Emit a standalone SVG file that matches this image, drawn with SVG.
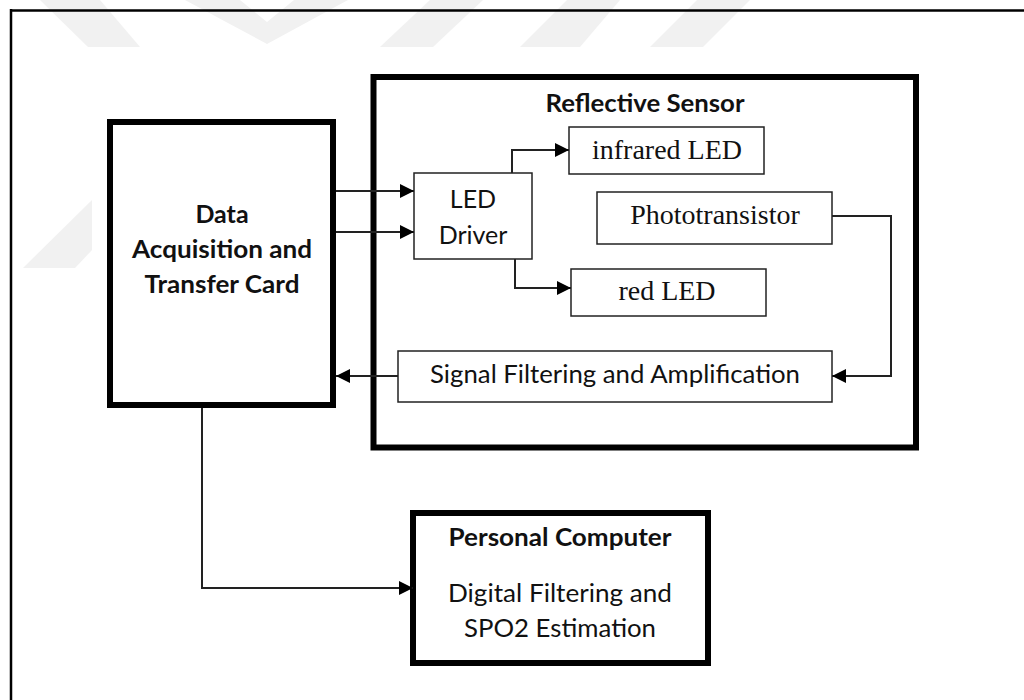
<svg xmlns="http://www.w3.org/2000/svg" width="1024" height="700" viewBox="0 0 1024 700">
<defs>
<style>
.wm{fill:#f1f1f1;stroke:none}
.thick{fill:#fff;stroke:#000;stroke-width:6}
.thin{fill:#fff;stroke:#222;stroke-width:1.5}
.con{fill:none;stroke:#222;stroke-width:2}
.sans{font-family:Lato,"Open Sans","Liberation Sans",sans-serif;font-size:25px;fill:#111;text-anchor:middle}
.bold{font-weight:bold}
.serif{font-family:"Liberation Serif","Times New Roman",serif;font-size:28px;fill:#111;text-anchor:middle}
</style>
<marker id="ah" markerUnits="userSpaceOnUse" markerWidth="15" markerHeight="14" refX="14" refY="7" orient="auto">
<path d="M0,0 L14,7 L0,14 z" fill="#000"/>
</marker>
</defs>
<rect x="0" y="0" width="1024" height="700" fill="#fff"/>
<g id="watermark">
<polygon class="wm" points="40,0 100,0 140,47 88,47"/>
<polygon class="wm" points="185,0 240,0 267,22 294,0 348,0 267,44"/>
<polygon class="wm" points="430,0 483,0 433,47 380,47"/>
<polygon class="wm" points="567,0 620,0 580,47 520,47"/>
<polygon class="wm" points="697,0 750,0 703,47 650,47"/>
<polygon class="wm" points="92,200 92,250 75,268 23,268"/>
</g>
<g id="frame">
<line x1="11" y1="10.5" x2="1024" y2="10.5" stroke="#000" stroke-width="2.5"/>
<line x1="11" y1="9" x2="11" y2="700" stroke="#000" stroke-width="2.5"/>
</g>
<g id="daq">
<rect class="thick" x="110" y="122" width="223" height="283"/>
<text class="sans bold" x="222" y="223">Data</text>
<text class="sans bold" x="222" y="258" textLength="180" lengthAdjust="spacingAndGlyphs">Acquisition and</text>
<text class="sans bold" x="222" y="293" textLength="155" lengthAdjust="spacingAndGlyphs">Transfer Card</text>
</g>
<g id="reflective-sensor">
<rect class="thick" x="373.5" y="77" width="542.5" height="370.5"/>
<text class="sans bold" x="645" y="112" textLength="199" lengthAdjust="spacingAndGlyphs">Reflective Sensor</text>
</g>
<g id="led-driver">
<rect class="thin" x="414" y="173" width="118" height="86"/>
<text class="sans" x="473" y="208">LED</text>
<text class="sans" x="473" y="244">Driver</text>
</g>
<g id="infrared-led">
<rect class="thin" x="569" y="127" width="195" height="47"/>
<text class="serif" x="667" y="159">infrared LED</text>
</g>
<g id="phototransistor">
<rect class="thin" x="597" y="192" width="235" height="52"/>
<text class="serif" x="715" y="224">Phototransistor</text>
</g>
<g id="red-led">
<rect class="thin" x="571" y="269" width="195" height="47"/>
<text class="serif" x="667" y="300">red LED</text>
</g>
<g id="signal-filtering">
<rect class="thin" x="398" y="351" width="434" height="51"/>
<text class="sans" x="615" y="383" textLength="370" lengthAdjust="spacingAndGlyphs">Signal Filtering and Amplification</text>
</g>
<g id="personal-computer">
<rect class="thick" x="413" y="513" width="295" height="150"/>
<text class="sans bold" x="560" y="546" textLength="223" lengthAdjust="spacingAndGlyphs">Personal Computer</text>
<text class="sans" x="560" y="602" textLength="224" lengthAdjust="spacingAndGlyphs">Digital Filtering and</text>
<text class="sans" x="560" y="637" textLength="192" lengthAdjust="spacingAndGlyphs">SPO2 Estimation</text>
</g>
<g id="connectors">
<path class="con" d="M336,191 H414" marker-end="url(#ah)"/>
<path class="con" d="M336,232 H414" marker-end="url(#ah)"/>
<path class="con" d="M512,173 V150 H569" marker-end="url(#ah)"/>
<path class="con" d="M515,259 V288 H571" marker-end="url(#ah)"/>
<path class="con" d="M832,216 H891 V376 H832" stroke-width="1.5" marker-end="url(#ah)"/>
<path class="con" d="M398,376 H336" marker-end="url(#ah)"/>
<path class="con" d="M202,408 V588 H413" stroke-width="1.5" marker-end="url(#ah)"/>
</g>
</svg>
